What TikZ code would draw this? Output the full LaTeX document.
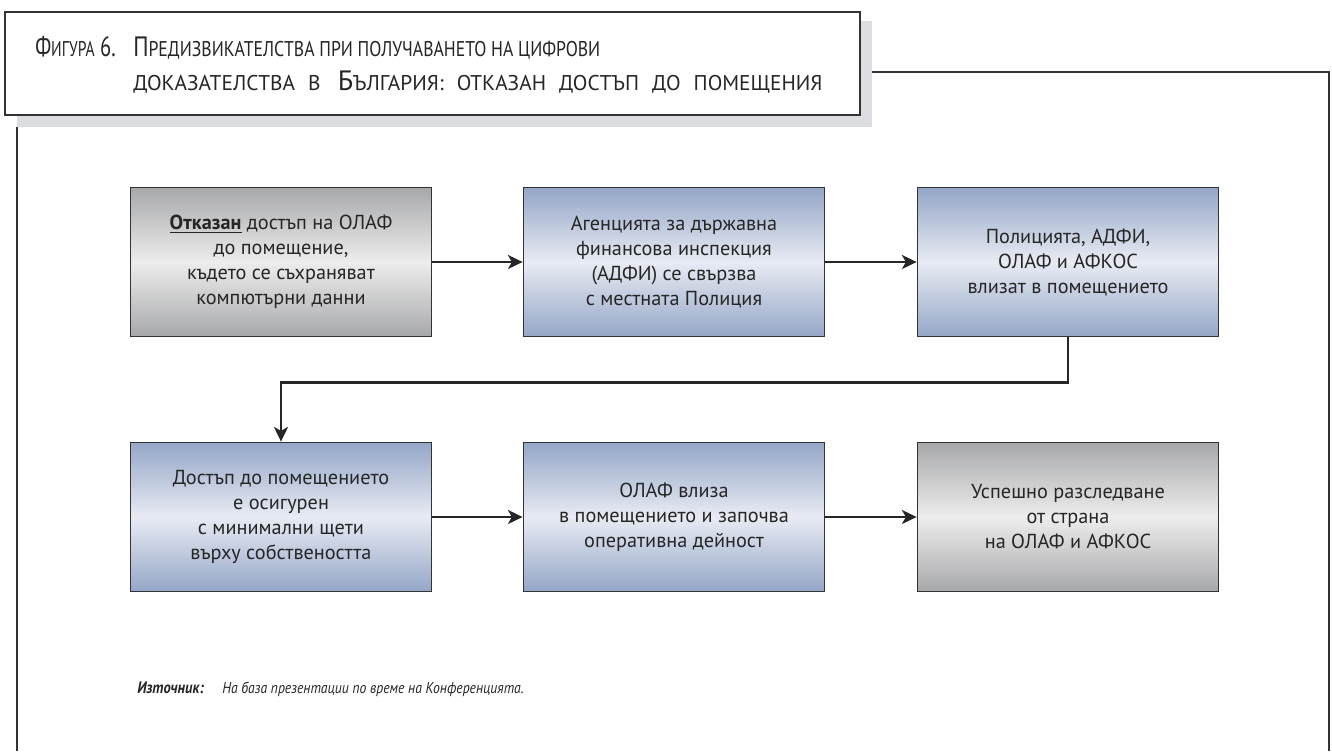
\documentclass[tikz,border=0pt]{standalone}
\usepackage{fontspec}
\setmainfont{PT Sans}
\newfontfamily\titlefont[FakeStretch=0.83]{PT Sans}
\newfontfamily\titlewide{PT Sans}
\newfontfamily\srcfont[FakeStretch=0.87]{PT Sans}
\usepackage{tikz}
\usetikzlibrary{shapes.geometric, arrows.meta, positioning, calc}

\definecolor{boxline}{HTML}{333335}
\definecolor{blueend}{HTML}{94A6C7}
\definecolor{bluemid}{HTML}{E8EBF3}
\definecolor{grayend}{HTML}{A7A8AA}
\definecolor{graymid}{HTML}{EDEDED}
\definecolor{shadowgray}{HTML}{DCDDE0}

\newcommand\smc[1]{{\fontsize{16}{18}\selectfont #1}}

\tikzset{
  stepbox/.style={draw=boxline, line width=1.1pt, minimum width=226pt, minimum height=112pt,
    align=center, font=\fontsize{15.2}{18.75}\selectfont, text=black!85},
  bluebox/.style={stepbox, top color=blueend, bottom color=blueend, middle color=bluemid},
  graybox/.style={stepbox, top color=grayend, bottom color=grayend, middle color=graymid},
  titletext/.style={anchor=base west, inner sep=0pt, font=\titlefont\fontsize{21}{24}\selectfont, text=black!85},
  conn/.style={draw=black!85, line width=2.2pt, -{Stealth[length=11pt,width=10.5pt,inset=3pt]}}
}

\begin{document}
\begin{tikzpicture}[x=0.75pt, y=-0.75pt]
  \useasboundingbox (0,0) rectangle (1332,751);

  % ---------- рамка и заглавие ----------
  \fill[shadowgray] (17,21) rectangle (872,127);
  \draw[boxline, line width=1.6pt, fill=white] (5,12) rectangle (860,115);
  \draw[boxline, line width=1.6pt] (872,72) -- (1329,72) -- (1329,751);
  \draw[boxline, line width=1.6pt] (17,127) -- (17,751);

  \node[titletext] (fig) at (35,56) {\scalebox{0.88}[1]{Ф\smc{ИГУРА} 6.}};
  \node[titletext] (ttl1) at (133,56)
    {П\smc{РЕДИЗВИКАТЕЛСТВА ПРИ ПОЛУЧАВАНЕТО НА ЦИФРОВИ}};
  \node[titletext, font=\titlewide\fontsize{21}{24}\selectfont] (ttl2) at (133,90)
    {\makebox[517pt][s]{\smc{ДОКАЗАТЕЛСТВА В} Б\smc{ЪЛГАРИЯ: ОТКАЗАН ДОСТЪП ДО ПОМЕЩЕНИЯ}}};

  % ---------- стъпки ----------
  \node[graybox] (b1) at (281,262) {\underline{\textbf{Отказан}} достъп на ОЛАФ\\до помещение,\\където се съхраняват\\компютърни данни};
  \node[bluebox] (b2) at (674,262) {Агенцията за държавна\\финансова инспекция\\(АДФИ) се свързва\\с местната Полиция};
  \node[bluebox] (b3) at (1068,262) {Полицията, АДФИ,\\ОЛАФ и АФКОС\\влизат в помещението};
  \node[bluebox] (b4) at (281,517) {Достъп до помещението\\е осигурен\\с минимални щети\\върху собствеността};
  \node[bluebox] (b5) at (674,517) {ОЛАФ влиза\\в помещението и започва\\оперативна дейност};
  \node[graybox] (b6) at (1068,517) {Успешно разследване\\от страна\\на ОЛАФ и АФКОС};

  \foreach \a/\b in {b1/b2, b2/b3, b4/b5, b5/b6}{
    \draw[conn] (\a) -- (\b);
  }
  \draw[conn] (b3.south) -- ++(0,45) -| (b4.north);

  % ---------- източник ----------
  \node[anchor=base west, inner sep=0pt, font=\srcfont\bfseries\itshape\fontsize{12.5}{15}\selectfont, text=black!85] (srclbl) at (137,693) {Източник:};
  \node[anchor=base west, inner sep=0pt, font=\srcfont\itshape\fontsize{11.8}{14}\selectfont, text=black!85] (src) at (222,693) {На база презентации по време на Конференцията.};
\end{tikzpicture}
\end{document}
